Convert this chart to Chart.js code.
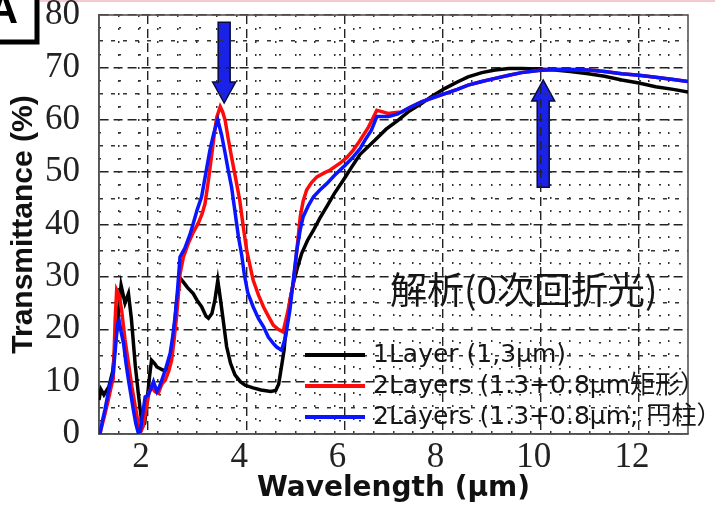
<!DOCTYPE html>
<html>
<head>
<meta charset="utf-8">
<script src="https://cdn.jsdelivr.net/npm/chart.js@4"></script>
<style>
  html, body { margin: 0; padding: 0; background: #fff; }
  canvas { display: block; background: #fff; }
</style>
</head>
<body>
<canvas id="grafico" width="715" height="523"></canvas>
<script>
// eixo x - comprimento de onda (um), ticks principais
const xTicks = [2, 4, 6, 8, 10, 12];

// 1Layer (1,3um) - curva preta
const wl1Layer = [1.0, 1.04, 1.1, 1.2, 1.28, 1.36, 1.45, 1.53, 1.6, 1.66, 1.74, 1.8, 1.88, 1.93, 1.97, 2.03, 2.07, 2.13, 2.18, 2.3, 2.38, 2.45, 2.52, 2.58, 2.65, 2.72, 2.8, 2.92, 3.0, 3.09, 3.18, 3.23, 3.3, 3.36, 3.42, 3.47, 3.52, 3.6, 3.68, 3.77, 3.88, 3.98, 4.14, 4.3, 4.5, 4.6, 4.66, 4.72, 4.77, 4.82, 4.9, 4.96, 5.05, 5.13, 5.25, 5.37, 5.5, 5.64, 5.8, 5.98, 6.15, 6.32, 6.62, 6.85, 7.09, 7.3, 7.57, 7.8, 8.05, 8.3, 8.52, 8.8, 9.07, 9.35, 9.61, 9.95, 10.29, 10.6, 10.97, 11.3, 11.65, 12.0, 12.34, 12.7, 13.0];
const t1Layer = [6.5, 8.5, 7.5, 9, 12, 20, 28.4, 25, 26.8, 22, 13, 7.8, 1.5, 2, 5.5, 11, 14.1, 13.5, 12.8, 12.2, 12.2, 13.5, 19, 25, 29.8, 29, 28, 26.8, 25.5, 24.3, 22.5, 22.1, 23, 25.5, 29.3, 26, 22.5, 16.7, 13.5, 11.3, 10, 9.3, 8.8, 8.4, 8.1, 8.3, 9.5, 13, 16, 21, 26, 28.8, 32, 34.5, 37, 38.9, 41.2, 43.4, 46, 48.5, 51, 53.4, 56.1, 58.2, 59.9, 61.5, 63.1, 64.6, 66, 67.2, 68.2, 69, 69.5, 69.8, 69.8, 69.7, 69.5, 69.2, 68.8, 68.3, 67.6, 67, 66.3, 65.8, 65.3];

// 2Layers 矩形 - curva vermelha
const wlRect = [1.02, 1.1, 1.19, 1.26, 1.29, 1.33, 1.36, 1.41, 1.46, 1.53, 1.6, 1.67, 1.74, 1.8, 1.84, 1.9, 1.97, 2.02, 2.07, 2.14, 2.21, 2.28, 2.35, 2.42, 2.48, 2.53, 2.58, 2.62, 2.65, 2.72, 2.82, 2.92, 3.02, 3.1, 3.16, 3.23, 3.3, 3.36, 3.4, 3.47, 3.52, 3.57, 3.63, 3.7, 3.78, 3.87, 3.94, 4.01, 4.08, 4.14, 4.25, 4.35, 4.45, 4.55, 4.65, 4.75, 4.85, 4.96, 5.03, 5.1, 5.16, 5.23, 5.33, 5.44, 5.58, 5.71, 5.91, 6.05, 6.18, 6.3, 6.49, 6.66, 6.78, 6.89, 7.05, 7.17, 7.35, 7.57, 7.8, 8.05, 8.3, 8.52, 8.8, 9.07, 9.35, 9.61, 9.95, 10.29, 10.6, 10.97, 11.3, 11.65, 12.0, 12.34, 12.7, 13.0];
const tRect = [0.2, 3, 6.5, 9.5, 10.5, 22, 27.5, 26.5, 23.7, 18, 13.5, 9, 5.2, 2, 0.2, 1.5, 5.2, 8, 9, 8.1, 7.8, 9.5, 10.3, 12, 14.1, 18, 22.4, 27, 30.5, 33.8, 36.4, 38.5, 40.2, 42, 44, 48.5, 53.6, 58, 60.5, 62.5, 61.5, 59.9, 56.5, 52.9, 49, 44.5, 39.5, 35, 32, 29.4, 26.5, 24.3, 22.5, 20.8, 20, 19.5, 23.5, 28.8, 35, 41.5, 44.5, 46.6, 48, 49.1, 49.8, 50.4, 51.7, 52.8, 54.2, 55.8, 58.6, 61.8, 61.5, 61.2, 61.4, 61.5, 62.4, 63.4, 64.2, 65, 65.8, 66.6, 67.3, 67.9, 68.5, 69, 69.4, 69.6, 69.6, 69.5, 69.2, 68.8, 68.5, 68.1, 67.7, 67.3];

// 2Layers 円柱 - curva azul
const wlCyl = [1.02, 1.07, 1.12, 1.18, 1.23, 1.29, 1.34, 1.38, 1.41, 1.45, 1.5, 1.55, 1.6, 1.65, 1.7, 1.75, 1.8, 1.84, 1.9, 1.94, 2.0, 2.05, 2.11, 2.18, 2.23, 2.28, 2.36, 2.45, 2.5, 2.55, 2.6, 2.62, 2.65, 2.75, 2.85, 2.92, 3.0, 3.09, 3.18, 3.26, 3.34, 3.42, 3.5, 3.57, 3.63, 3.7, 3.77, 3.84, 3.91, 3.96, 4.03, 4.14, 4.25, 4.35, 4.45, 4.55, 4.62, 4.72, 4.8, 4.89, 4.96, 5.03, 5.1, 5.16, 5.26, 5.37, 5.5, 5.64, 5.8, 5.98, 6.15, 6.32, 6.42, 6.55, 6.66, 6.9, 7.09, 7.3, 7.57, 7.8, 8.05, 8.3, 8.52, 8.8, 9.07, 9.35, 9.61, 9.95, 10.29, 10.6, 10.97, 11.3, 11.65, 12.0, 12.34, 12.7, 13.0];
const tCyl = [0, 2.5, 4.6, 7.5, 9.7, 11.6, 17, 21.1, 21.6, 19.5, 17.3, 13.5, 10.3, 7.5, 4.6, 2, 0.2, 0.5, 4.5, 7.1, 7.4, 8.5, 10, 8.1, 9, 10.3, 12.5, 15.4, 18.5, 22.4, 27.5, 30, 33.8, 35.5, 38, 40.2, 42.8, 45.3, 50, 54.2, 57.5, 60, 57, 53.6, 50.5, 47.2, 42.5, 37.7, 34, 30.5, 27, 24.3, 22, 20.5, 18.5, 17.3, 16.6, 16, 18.5, 23.7, 29.5, 35.1, 39, 41.5, 43.5, 45.3, 46.6, 47.8, 49.4, 51, 52.6, 54.5, 56.1, 58, 60.6, 60.6, 61.1, 62.2, 63.4, 64.2, 65, 65.8, 66.6, 67.3, 67.9, 68.5, 69, 69.4, 69.6, 69.6, 69.5, 69.2, 68.8, 68.5, 68.1, 67.7, 67.3];

const rotulos = ["1Layer (1,3µm)", "2Layers (1.3+0.8µm矩形）", "2Layers (1.3+0.8µm; 円柱）"];
const anotacao = "解析(0次回折光)";

// setas: [x, y da base, y da ponta]
const setaBaixo = [3.55, 78.6, 63.2];
const setaCima = [10.05, 47.1, 67.6];

const pontos = (xs, ys) => xs.map((x, i) => ({ x: x, y: ys[i] }));

// grade secundaria - so grade, sem rotulos
function eixoGrade(pos, passo, cor, dash, filtro) {
    return {
        type: 'linear',
        position: pos,
        min: pos === 'left' ? 0 : 1,
        max: pos === 'left' ? 80 : 13,
        ticks: { display: false, stepSize: passo },
        grid: { color: cor, lineWidth: 1.5, drawTicks: false },
        border: { display: false, dash: dash },
        afterBuildTicks: (s) => { s.ticks = s.ticks.filter(t => filtro(t.value)); },
        afterFit: (s) => { if (pos === 'left') s.width = 0; else s.height = 0; }
    };
}
const naoMultiplo = (v, m) => Math.abs(v / m - Math.round(v / m)) > 1e-6;

// seta desenhada em pixels a partir das escalas
function desenhaSeta(ctx, sx, sy, seta) {
    const x = sx.getPixelForValue(seta[0]);
    const y0 = sy.getPixelForValue(seta[1]);
    const y1 = sy.getPixelForValue(seta[2]);
    const dir = y1 > y0 ? 1 : -1;
    const yh = y1 - dir * 21;
    ctx.beginPath();
    ctx.moveTo(x - 6, y0);
    ctx.lineTo(x + 6, y0);
    ctx.lineTo(x + 6, yh);
    ctx.lineTo(x + 11.5, yh);
    ctx.lineTo(x, y1);
    ctx.lineTo(x - 11.5, yh);
    ctx.lineTo(x - 6, yh);
    ctx.closePath();
    ctx.fillStyle = '#1a22e8';
    ctx.fill();
    ctx.lineWidth = 1.5;
    ctx.strokeStyle = '#0a0a40';
    ctx.stroke();
}

const extras = {
    id: 'extras',
    beforeDraw(chart) {
        const ctx = chart.ctx;
        ctx.save();
        // faixa rosa no topo
        ctx.fillStyle = '#f5c8cf';
        ctx.fillRect(40, 0, 675, 2);
        // caixa "A"
        ctx.lineWidth = 5;
        ctx.strokeStyle = '#000';
        ctx.strokeRect(-10, -10, 47, 52);
        ctx.fillStyle = '#000';
        ctx.font = 'bold 42px "Liberation Sans"';
        ctx.textAlign = 'right';
        ctx.textBaseline = 'alphabetic';
        ctx.fillText('A', 18, 23);
        // setas
        desenhaSeta(ctx, chart.scales.x, chart.scales.y, setaBaixo);
        desenhaSeta(ctx, chart.scales.x, chart.scales.y, setaCima);
        ctx.restore();
    },
    beforeDatasetsDraw(chart) {
        const a = chart.chartArea;
        const ctx = chart.ctx;
        ctx.save();
        ctx.strokeStyle = '#555';
        ctx.lineWidth = 1.6;
        ctx.strokeRect(a.left, a.top, a.right - a.left, a.bottom - a.top);
        ctx.restore();
    },
    afterDraw(chart) {
        const ctx = chart.ctx;
        ctx.save();
        // anotacao
        ctx.fillStyle = '#151515';
        ctx.font = '37px "Noto Sans CJK JP"';
        ctx.textAlign = 'left';
        ctx.textBaseline = 'middle';
        ctx.fillText(anotacao, 390, 290);
        // legenda
        ctx.font = '25px "DejaVu Sans", "Noto Sans CJK JP"';
        chart.data.datasets.forEach((ds, i) => {
            const y = 355 + i * 31;
            ctx.strokeStyle = ds.borderColor;
            ctx.lineWidth = 4;
            ctx.beginPath();
            ctx.moveTo(305, y);
            ctx.lineTo(365, y);
            ctx.stroke();
            ctx.fillStyle = '#151515';
            ctx.fillText(ds.label, 373, y);
        });
        ctx.restore();
    }
};

new Chart(document.querySelector('#grafico'), {
    type: 'line',
    data: {
        datasets: [
            { label: rotulos[0], data: pontos(wl1Layer, t1Layer), borderColor: '#000000', order: 2 },
            { label: rotulos[1], data: pontos(wlRect, tRect), borderColor: '#ff0a0a', order: 1 },
            { label: rotulos[2], data: pontos(wlCyl, tCyl), borderColor: '#0a14ff', order: 0 }
        ]
    },
    options: {
        responsive: false,
        animation: false,
        devicePixelRatio: 1,
        layout: { padding: { top: 15, right: 27, left: 0, bottom: 0 } },
        elements: {
            point: { radius: 0 },
            line: { borderWidth: 3.5, tension: 0, fill: false }
        },
        plugins: { legend: { display: false }, tooltip: { enabled: false } },
        scales: {
            x: {
                type: 'linear',
                min: 1,
                max: 13,
                afterBuildTicks: (s) => { s.ticks = xTicks.map(v => ({ value: v })); },
                ticks: {
                    color: '#222',
                    padding: 3,
                    labelOffset: -7,
                    font: { family: '"Liberation Serif"', size: 35, lineHeight: 1.2 }
                },
                grid: { color: '#222', lineWidth: 1.4, drawTicks: false },
                border: { display: true, color: '#444', width: 1.6, dash: [9, 5] },
                title: {
                    display: true,
                    text: 'Wavelength (µm)',
                    color: '#111',
                    font: { family: '"DejaVu Sans"', size: 28, weight: 'bold', lineHeight: 1.2 },
                    padding: { top: 0, bottom: 17 }
                },
                afterFit: (s) => { s.height = 89; s.paddingLeft = 0; s.paddingRight = 0; }
            },
            y: {
                type: 'linear',
                min: 0,
                max: 80,
                ticks: {
                    stepSize: 10,
                    color: '#222',
                    padding: 19,
                    font: { family: '"Liberation Serif"', size: 35, lineHeight: 1.2 }
                },
                grid: { color: '#222', lineWidth: 1.4, drawTicks: false },
                border: { display: true, color: '#444', width: 1.6, dash: [9, 5] },
                title: {
                    display: true,
                    text: 'Transmittance (%)',
                    color: '#111',
                    font: { family: '"Liberation Sans"', size: 30, weight: 'bold', lineHeight: 1.2 },
                    padding: { top: 6, bottom: 0 }
                },
                afterFit: (s) => { s.width = 99; s.paddingTop = 0; s.paddingBottom = 0; }
            },
            xMenor: eixoGrade('bottom', 0.4, '#333', [2, 11], v => v > 1.01 && v < 12.99 && naoMultiplo(v, 2)),
            yMeio: eixoGrade('left', 5, '#333', [4, 8], v => naoMultiplo(v, 10)),
            yMenor: eixoGrade('left', 2.5, '#333', [2, 18], v => naoMultiplo(v, 5))
        }
    },
    plugins: [extras]
});
</script>
</body>
</html>
